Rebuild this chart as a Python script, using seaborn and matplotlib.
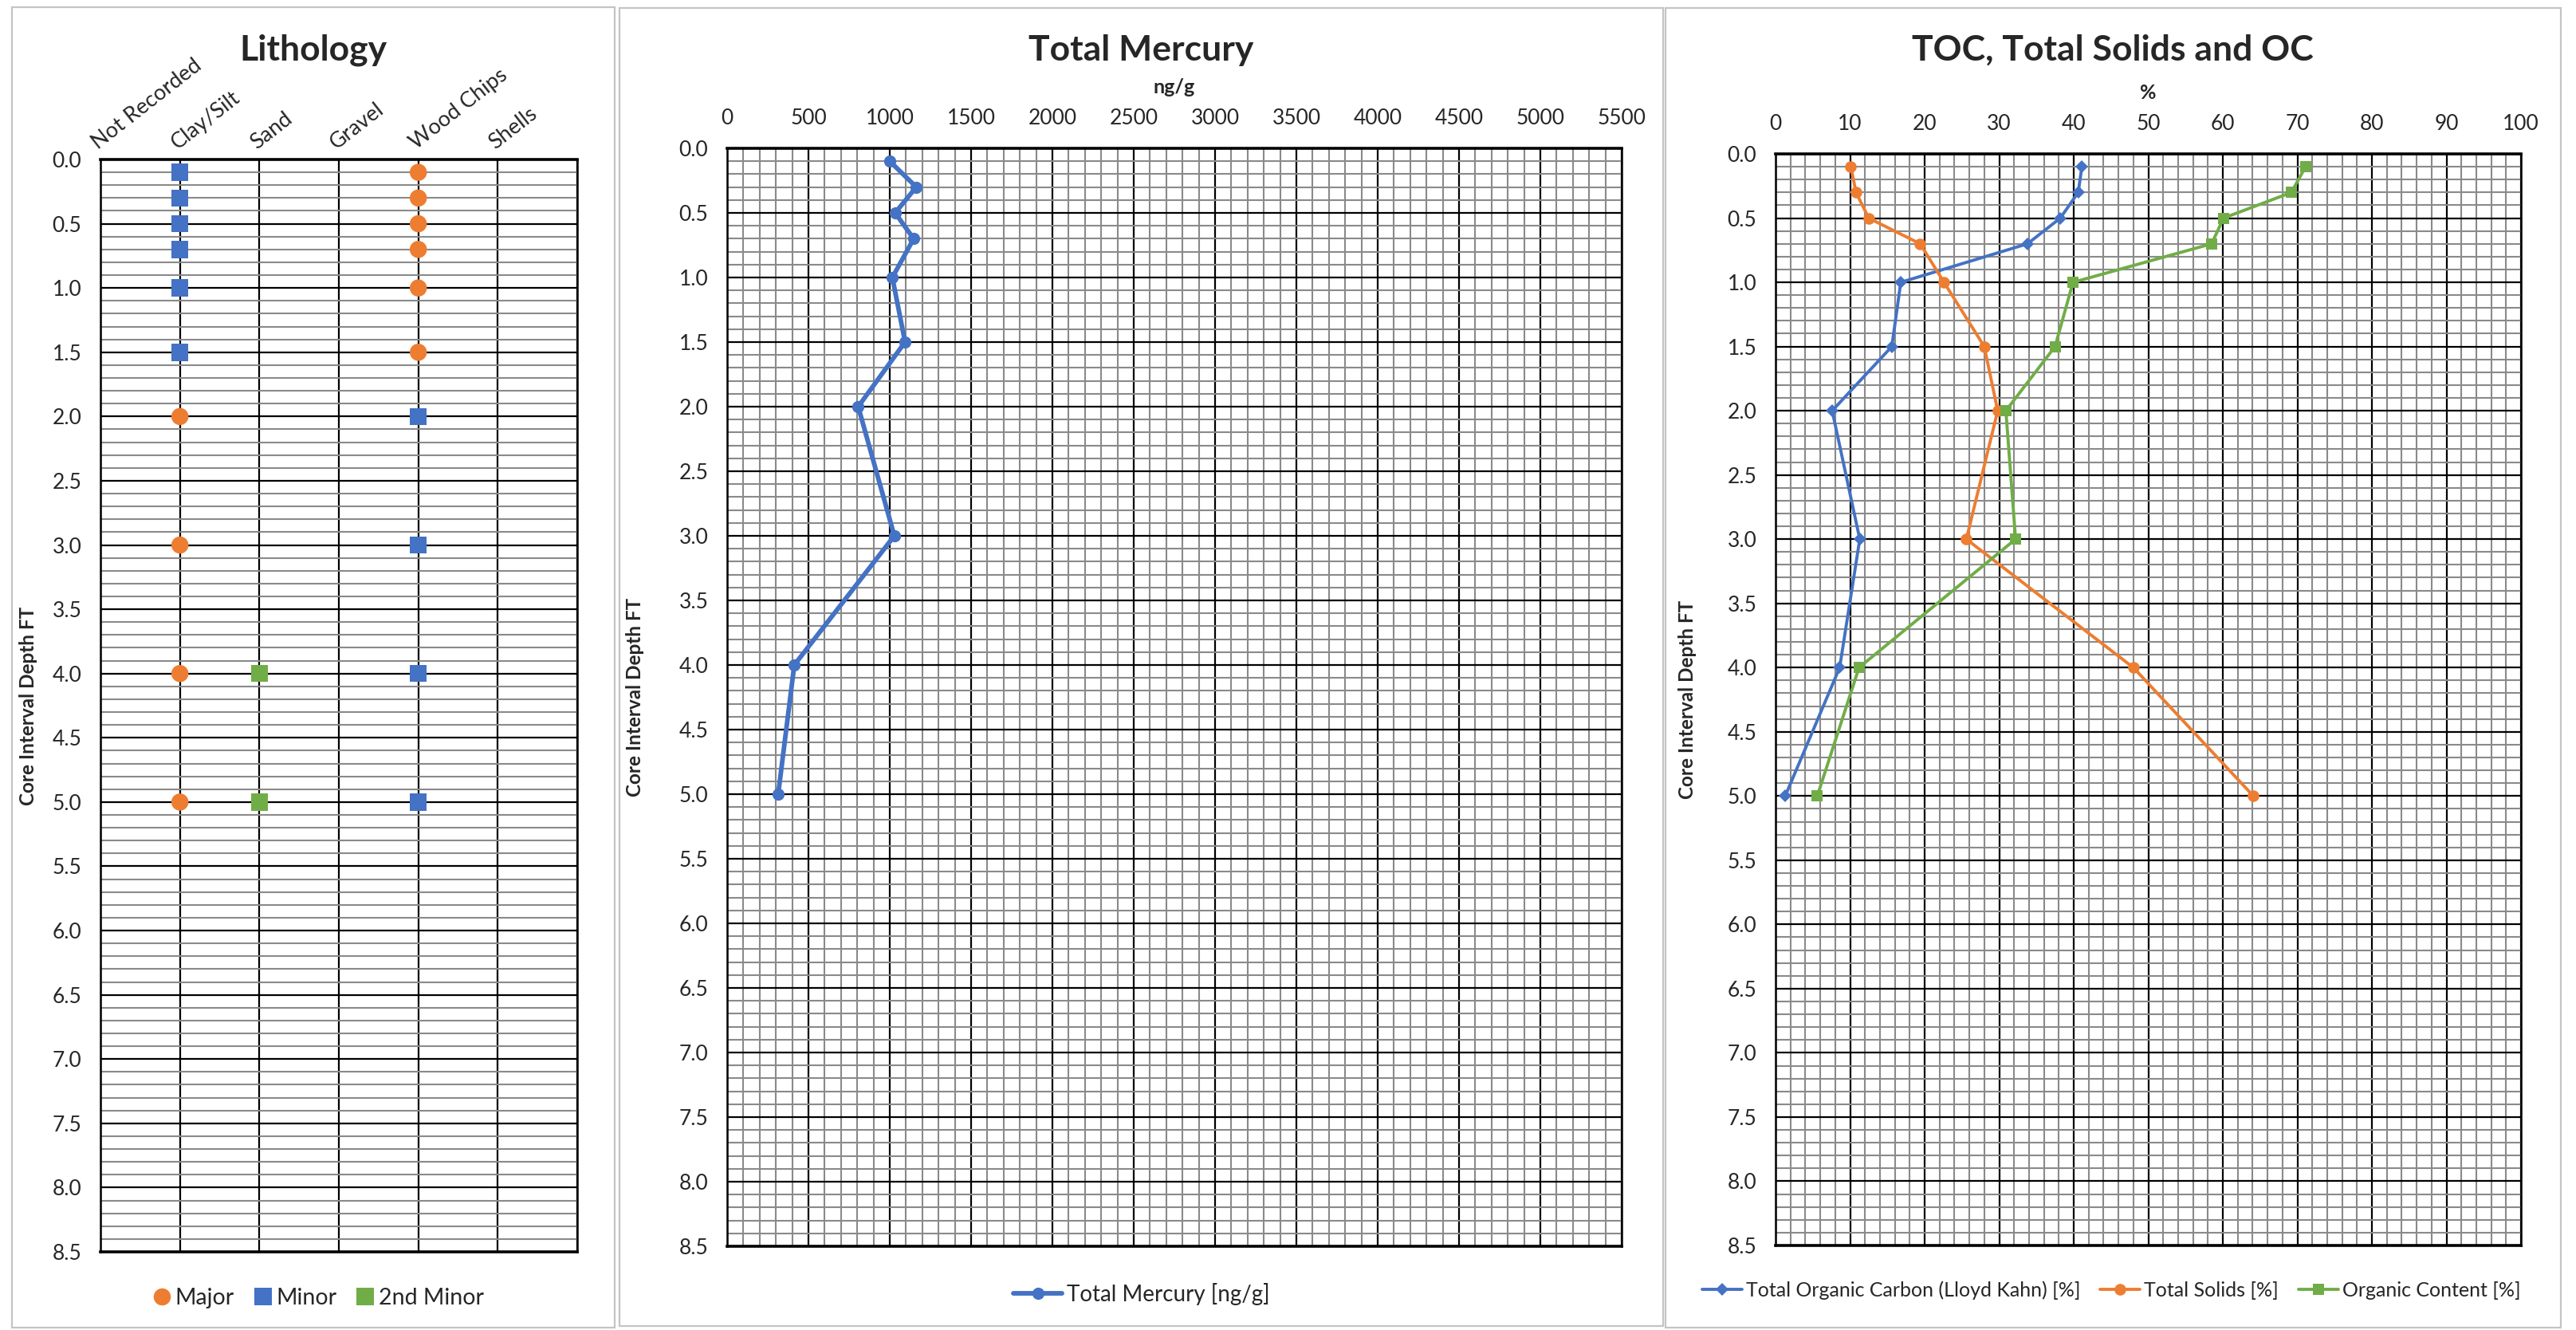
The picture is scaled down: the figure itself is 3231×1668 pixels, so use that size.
import numpy as np
import pandas as pd
import matplotlib
matplotlib.use("Agg")
import matplotlib.pyplot as plt
from matplotlib.patches import Rectangle
from matplotlib.ticker import MultipleLocator, FormatStrFormatter
import seaborn as sns

sns.set_style("white")
plt.rcParams['font.family'] = ['Lato', 'DejaVu Sans']

# ---- data ----
depth = [0.1, 0.3, 0.5, 0.7, 1.0, 1.5, 2.0, 3.0, 4.0, 5.0]

litho_categories = ['Not Recorded', 'Clay/Silt', 'Sand', 'Gravel', 'Wood Chips', 'Shells']
clay_silt = ['Minor', 'Minor', 'Minor', 'Minor', 'Minor', 'Minor', 'Major', 'Major', 'Major', 'Major']
sand = [None, None, None, None, None, None, None, None, '2nd Minor', '2nd Minor']
wood_chips = ['Major', 'Major', 'Major', 'Major', 'Major', 'Major', 'Minor', 'Minor', 'Minor', 'Minor']

mercury = [1000, 1163, 1033, 1147, 1016, 1094, 806, 1028, 413, 314]

toc = [41.1, 40.6, 38.2, 33.8, 16.8, 15.6, 7.6, 11.3, 8.6, 1.3]
total_solids = [10.1, 10.8, 12.5, 19.4, 22.6, 28.0, 29.8, 25.6, 48.0, 64.1]
organic_content = [71.1, 69.2, 60.1, 58.5, 39.9, 37.5, 30.9, 32.2, 11.2, 5.6]

BLUE, ORANGE, GREEN = '#4472C4', '#ED7D31', '#70AD47'
GRAY = '#8a8a8a'
W, H = 3231, 1668

fig = plt.figure(figsize=(W / 100, H / 100), dpi=100)


def fx(px):
    return px / W


def fy(px):
    return 1 - px / H


# panel frames
for x0, x1, y0, y1 in [(15, 771, 9, 1665), (777, 2086, 10, 1663), (2089, 3212, 10, 1665)]:
    fig.patches.append(Rectangle((fx(x0), fy(y1)), fx(x1 - x0), (y1 - y0) / H,
                                 transform=fig.transFigure, fill=False,
                                 edgecolor='#c4c4c4', lw=1.6))


def depth_axis(ax):
    ax.set_ylim(8.5, 0)
    ax.yaxis.set_major_locator(MultipleLocator(0.5))
    ax.yaxis.set_minor_locator(MultipleLocator(0.1))
    ax.yaxis.set_major_formatter(FormatStrFormatter('%.1f'))
    ax.set_axisbelow(True)
    ax.grid(which='major', axis='both', color='black', lw=1.6)
    ax.grid(which='minor', axis='both', color=GRAY, lw=1.5)
    ax.tick_params(which='both', length=0, labelsize=19)
    ax.tick_params(axis='y', pad=17)
    ax.tick_params(axis='x', pad=18)
    for s in ax.spines.values():
        s.set_color('black')
        s.set_linewidth(1.8)
    ax.spines['top'].set_linewidth(2.6)
    ax.spines['bottom'].set_linewidth(2.6)
    ax.set_ylabel('Core Interval Depth FT', fontsize=17.5, fontweight='bold')


# ---- Lithology ----
rows = []
for cat, classes in [('Clay/Silt', clay_silt), ('Sand', sand), ('Wood Chips', wood_chips)]:
    for d, c in zip(depth, classes):
        if c:
            rows.append({'pos': litho_categories.index(cat), 'depth': d, 'class': c})
df_litho = pd.DataFrame(rows)

ax1 = fig.add_axes([fx(126), fy(1570), fx(724 - 126), (1570 - 200) / H])
sns.scatterplot(data=df_litho, x='pos', y='depth', hue='class', style='class',
                hue_order=['Major', 'Minor', '2nd Minor'],
                style_order=['Major', 'Minor', '2nd Minor'],
                palette={'Major': ORANGE, 'Minor': BLUE, '2nd Minor': GREEN},
                markers={'Major': 'o', 'Minor': 's', '2nd Minor': 's'},
                s=240, linewidth=0, ax=ax1, zorder=3)
depth_axis(ax1)
ax1.grid(which='minor', axis='x', visible=False)
ax1.set_xlim(0, len(litho_categories))
ax1.xaxis.tick_top()
ax1.set_xticks(range(len(litho_categories) + 1))
ax1.set_xticklabels(litho_categories + [''], rotation=38, ha='left', va='bottom',
                    rotation_mode='anchor', fontsize=19.5)
ax1.tick_params(axis='x', pad=6)
ax1.set_xlabel('')
ax1.yaxis.set_label_coords(-0.132, 0.5)
h, l = ax1.get_legend_handles_labels()
ax1.get_legend().remove()
fig.legend(h, l, loc='center', bbox_to_anchor=(fx(400), fy(1628)), ncol=3,
           frameon=False, fontsize=20.5, handlelength=0.7, handletextpad=0.25,
           columnspacing=0.9, markerscale=1.0)
fig.text(fx(393), fy(63), 'Lithology', ha='center', va='center',
         fontsize=32, fontweight='bold')

# ---- Total Mercury ----
ax2 = fig.add_axes([fx(912), fy(1563), fx(2034 - 912), (1563 - 186) / H])
sns.lineplot(x=mercury, y=depth, sort=False, estimator=None, color=BLUE, lw=4.2,
             marker='o', markersize=11, markeredgewidth=0,
             label='Total Mercury [ng/g]', ax=ax2, zorder=3)
depth_axis(ax2)
ax2.set_xlim(0, 5500)
ax2.xaxis.set_major_locator(MultipleLocator(500))
ax2.xaxis.set_minor_locator(MultipleLocator(100))
ax2.xaxis.tick_top()
ax2.xaxis.set_label_position('top')
ax2.set_xlabel('ng/g', fontsize=18, fontweight='bold', labelpad=14)
ax2.yaxis.set_label_coords(-0.093, 0.5)
h, l = ax2.get_legend_handles_labels()
ax2.get_legend().remove()
fig.legend(h, l, loc='center', bbox_to_anchor=(fx(1432), fy(1623)),
           frameon=False, fontsize=20, handlelength=2.2, handletextpad=0.2)
fig.text(fx(1431), fy(63), 'Total Mercury', ha='center', va='center',
         fontsize=32, fontweight='bold')

# ---- TOC, Total Solids and OC ----
ax3 = fig.add_axes([fx(2227), fy(1562), fx(3162 - 2227), (1562 - 193) / H])
sns.lineplot(x=toc, y=depth, sort=False, estimator=None, color=BLUE, lw=2.8,
             marker='D', markersize=8, markeredgewidth=0,
             label='Total Organic Carbon (Lloyd Kahn) [%]', ax=ax3, zorder=3)
sns.lineplot(x=total_solids, y=depth, sort=False, estimator=None, color=ORANGE, lw=2.8,
             marker='o', markersize=10.5, markeredgewidth=0,
             label='Total Solids [%]', ax=ax3, zorder=3)
sns.lineplot(x=organic_content, y=depth, sort=False, estimator=None, color=GREEN, lw=2.8,
             marker='s', markersize=10, markeredgewidth=0,
             label='Organic Content [%]', ax=ax3, zorder=3)
depth_axis(ax3)
ax3.set_xlim(0, 100)
ax3.xaxis.set_major_locator(MultipleLocator(10))
ax3.xaxis.set_minor_locator(MultipleLocator(2))
ax3.xaxis.tick_top()
ax3.xaxis.set_label_position('top')
ax3.set_xlabel('%', fontsize=18, fontweight='bold', labelpad=14)
ax3.yaxis.set_label_coords(-0.106, 0.5)
h, l = ax3.get_legend_handles_labels()
ax3.get_legend().remove()
fig.legend(h, l, loc='center', bbox_to_anchor=(fx(2648), fy(1618)), ncol=3,
           frameon=False, fontsize=18, handlelength=2.0, handletextpad=0.2,
           columnspacing=1.0)
fig.text(fx(2650), fy(63), 'TOC, Total Solids and OC', ha='center', va='center',
         fontsize=32, fontweight='bold')

fig.savefig('out.png', dpi=100, facecolor='white')
